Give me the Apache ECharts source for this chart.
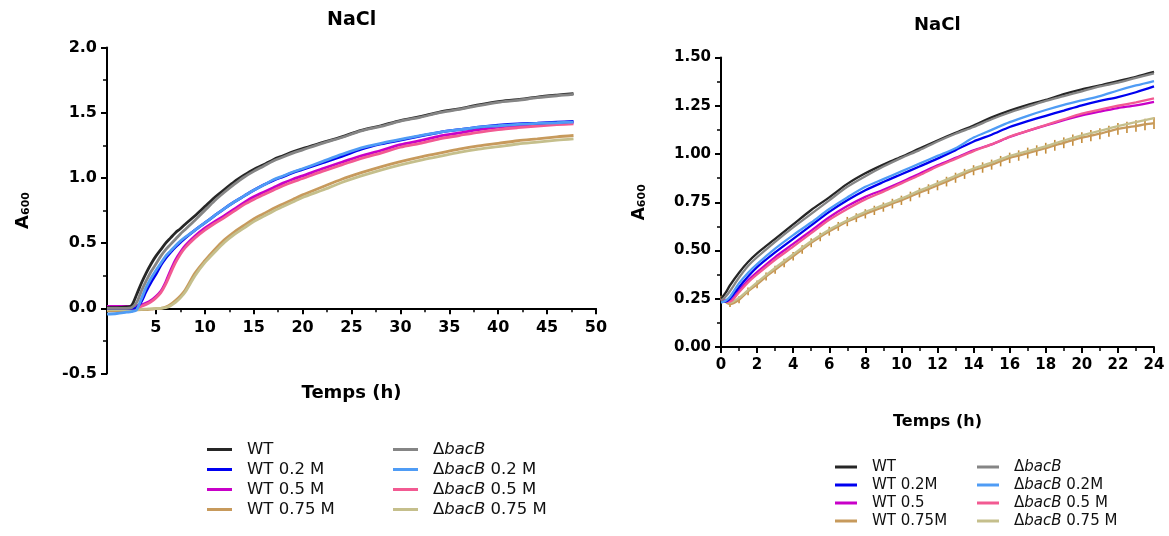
<!DOCTYPE html>
<html><head><meta charset="utf-8">
<script src="https://cdn.jsdelivr.net/npm/echarts@6/dist/echarts.min.js"></script>
<style>html,body{margin:0;padding:0;background:#fff}#c{width:1169px;height:536px}</style>
</head><body><div id="c"></div>
<script>
// ---------- LEFT PANEL (0-48 h) ----------
const tL = [0,1,2,2.5,3,3.5,4,4.5,5,5.5,6,6.5,7,7.5,8,9,10,11,12,13,14,15,16,17,18,19,20,22,24,26,28,30,32,34,36,38,40,42,44,46,47.7];
const wtL     = [0.005,0.005,0.01,0.02,0.10,0.19,0.27,0.34,0.40,0.45,0.50,0.54,0.58,0.61,0.645,0.71,0.78,0.85,0.91,0.97,1.02,1.065,1.10,1.14,1.17,1.20,1.225,1.27,1.315,1.365,1.40,1.44,1.47,1.505,1.53,1.56,1.585,1.60,1.62,1.635,1.646];
const wt02L   = [0.0,0.0,0.0,0.0,0.005,0.05,0.13,0.20,0.26,0.33,0.385,0.43,0.47,0.505,0.54,0.60,0.655,0.71,0.765,0.815,0.86,0.905,0.945,0.98,1.01,1.04,1.065,1.115,1.165,1.22,1.26,1.29,1.32,1.35,1.37,1.39,1.405,1.415,1.42,1.428,1.433];
const wt05L   = [0.015,0.015,0.015,0.015,0.02,0.025,0.04,0.06,0.09,0.13,0.20,0.29,0.37,0.43,0.48,0.555,0.615,0.665,0.71,0.76,0.81,0.855,0.89,0.925,0.96,0.99,1.015,1.07,1.12,1.17,1.21,1.255,1.285,1.32,1.345,1.37,1.39,1.40,1.412,1.42,1.426];
const wt075L  = [-0.02,-0.02,-0.015,-0.015,-0.012,-0.01,-0.01,-0.006,-0.003,0.0,0.01,0.03,0.06,0.095,0.14,0.27,0.365,0.45,0.525,0.585,0.635,0.685,0.725,0.765,0.80,0.835,0.87,0.93,0.99,1.04,1.085,1.125,1.16,1.19,1.22,1.245,1.265,1.285,1.30,1.315,1.325];
const bacL    = [0.0,0.0,0.0,0.005,0.04,0.13,0.21,0.28,0.34,0.40,0.45,0.49,0.53,0.57,0.605,0.675,0.75,0.825,0.89,0.95,1.005,1.05,1.09,1.13,1.16,1.19,1.215,1.265,1.31,1.36,1.395,1.435,1.465,1.50,1.525,1.555,1.58,1.595,1.615,1.63,1.64];
const bac02L  = [-0.045,-0.04,-0.03,-0.025,-0.015,0.07,0.16,0.23,0.29,0.345,0.40,0.44,0.48,0.515,0.545,0.60,0.655,0.71,0.765,0.815,0.86,0.905,0.945,0.985,1.015,1.045,1.07,1.125,1.18,1.23,1.265,1.295,1.325,1.35,1.37,1.39,1.40,1.41,1.418,1.423,1.428];
const bac05L  = [0.0,0.0,0.0,0.0,0.005,0.015,0.03,0.05,0.08,0.12,0.185,0.27,0.35,0.415,0.465,0.54,0.60,0.65,0.695,0.745,0.795,0.835,0.87,0.905,0.94,0.97,0.995,1.05,1.10,1.15,1.19,1.235,1.265,1.30,1.325,1.35,1.37,1.385,1.398,1.408,1.415];
const bac075L = [-0.01,-0.01,-0.01,-0.01,-0.01,-0.008,-0.006,-0.004,-0.002,0.0,0.005,0.02,0.045,0.08,0.125,0.25,0.35,0.43,0.505,0.565,0.615,0.665,0.705,0.745,0.78,0.815,0.85,0.905,0.965,1.015,1.06,1.10,1.135,1.165,1.195,1.22,1.24,1.26,1.275,1.29,1.30];
const namesL = ['WT','WT 0.2 M','WT 0.5 M','WT 0.75 M','ΔbacB','ΔbacB 0.2 M','ΔbacB 0.5 M','ΔbacB 0.75 M'];
const xTicksL = [0,5,10,15,20,25,30,35,40,45,50];
const yTicksL = [-0.5,0.0,0.5,1.0,1.5,2.0];

// ---------- RIGHT PANEL (0-24 h) ----------
const tR = [0,0.25,0.5,1,1.5,2,3,4,5,6,7,8,9,10,11,12,13,14,15,16,17,18,19,20,21,22,23,24];
const wtR     = [0.25,0.28,0.32,0.385,0.44,0.485,0.56,0.635,0.71,0.775,0.845,0.90,0.945,0.985,1.028,1.07,1.11,1.148,1.19,1.225,1.255,1.28,1.31,1.335,1.355,1.378,1.40,1.425];
const wt02R   = [0.235,0.235,0.25,0.31,0.365,0.414,0.49,0.56,0.63,0.70,0.76,0.812,0.855,0.895,0.935,0.976,1.02,1.065,1.10,1.14,1.17,1.198,1.225,1.252,1.275,1.295,1.32,1.35];
const wt05R   = [0.25,0.24,0.24,0.293,0.345,0.388,0.466,0.534,0.603,0.672,0.73,0.778,0.815,0.855,0.898,0.941,0.98,1.019,1.05,1.088,1.12,1.148,1.175,1.20,1.22,1.238,1.252,1.27];
const bacR    = [0.24,0.26,0.29,0.36,0.42,0.465,0.545,0.62,0.69,0.76,0.83,0.885,0.935,0.98,1.02,1.065,1.105,1.14,1.18,1.215,1.245,1.275,1.30,1.325,1.35,1.37,1.395,1.418];
const bac02R  = [0.23,0.24,0.26,0.33,0.385,0.43,0.51,0.58,0.645,0.715,0.775,0.83,0.87,0.91,0.95,0.99,1.03,1.085,1.125,1.165,1.198,1.228,1.255,1.278,1.30,1.329,1.355,1.378];
const bac05R  = [0.245,0.235,0.235,0.284,0.335,0.376,0.452,0.52,0.59,0.659,0.715,0.765,0.805,0.848,0.89,0.935,0.975,1.015,1.05,1.09,1.12,1.15,1.18,1.209,1.23,1.25,1.268,1.288];
const bac075R = [0.26,0.245,0.23,0.255,0.295,0.335,0.41,0.48,0.548,0.608,0.656,0.70,0.735,0.77,0.81,0.848,0.887,0.925,0.955,0.99,1.015,1.04,1.07,1.097,1.12,1.145,1.165,1.186];
// WT 0.75M (right) read at half-hour steps, with its error bars (SD)
const tRh      = [0,0.5,1,1.5,2,2.5,3,3.5,4,4.5,5,5.5,6,6.5,7,7.5,8,8.5,9,9.5,10,10.5,11,11.5,12,12.5,13,13.5,14,14.5,15,15.5,16,16.5,17,17.5,18,18.5,19,19.5,20,20.5,21,21.5,22,22.5,23,23.5,24];
const wt075R   = [0.255,0.222,0.245,0.288,0.325,0.365,0.40,0.435,0.47,0.505,0.54,0.57,0.60,0.625,0.65,0.67,0.69,0.708,0.725,0.743,0.76,0.78,0.80,0.818,0.838,0.857,0.877,0.897,0.916,0.93,0.945,0.963,0.98,0.992,1.005,1.018,1.03,1.045,1.058,1.072,1.085,1.095,1.105,1.118,1.13,1.138,1.145,1.153,1.16];
const sdWt075R = [0.010,0.015,0.018,0.020,0.020,0.021,0.021,0.022,0.022,0.022,0.023,0.022,0.023,0.023,0.024,0.023,0.024,0.024,0.024,0.025,0.024,0.025,0.025,0.025,0.026,0.025,0.026,0.026,0.026,0.027,0.026,0.027,0.027,0.027,0.028,0.027,0.028,0.028,0.028,0.029,0.028,0.029,0.029,0.029,0.030,0.029,0.030,0.030,0.030];
const namesR = ['WT','WT 0.2M','WT 0.5','WT 0.75M','ΔbacB','ΔbacB 0.2M','ΔbacB 0.5 M','ΔbacB 0.75 M'];
const xTicksR = [0,2,4,6,8,10,12,14,16,18,20,22,24];
const yTicksR = [0,0.25,0.5,0.75,1.0,1.25,1.5];

const colors = ['#262626','#0000f0','#c800c8','#c79a5c','#858585','#4f9cf5','#f25a92','#c5bf8c'];

const valsL = [wtL,wt02L,wt05L,wt075L,bacL,bac02L,bac05L,bac075L];
const valsR = [wtR,wt02R,wt05R,wt075R,bacR,bac02R,bac05R,bac075R];
const timesR = [tR,tR,tR,tRh,tR,tR,tR,tR];
const drawOrder = [3,7,2,6,1,5,0,4];

const FONT = 'DejaVu Sans';
const GRID_L = { left: 107, top: 47.5, width: 489, height: 326 };
// the left x axis crosses the y axis at 0: shift it up from the grid bottom by the distance from 0 to the y minimum
const yMinL = yTicksL[0], yMaxL = yTicksL[yTicksL.length-1];
const xOffsetL = -GRID_L.height * (0 - yMinL) / (yMaxL - yMinL);

const series = [];
drawOrder.forEach(i => {
  series.push({ name: 'L|' + namesL[i], type: 'line', xAxisIndex: 0, yAxisIndex: 0,
    data: tL.map((t, k) => [t, valsL[i][k]]), showSymbol: false, symbol: 'none', smooth: 0.3,
    color: colors[i], lineStyle: { width: 2.8, color: colors[i] }, z: 2 });
});
// error bars of WT 0.75M (right panel)
series.push({ name: 'R|WT 0.75M SD', type: 'custom', xAxisIndex: 1, yAxisIndex: 1, z: 1,
  data: tRh.map((t, k) => [t, wt075R[k] - sdWt075R[k], wt075R[k] + sdWt075R[k]]),
  encode: { x: 0, y: [1, 2] },
  renderItem: (params, api) => {
    const a = api.coord([api.value(0), api.value(1)]);
    const b = api.coord([api.value(0), api.value(2)]);
    return { type: 'line', shape: { x1: a[0], y1: a[1], x2: b[0], y2: b[1] },
             style: { stroke: '#c48c3a', lineWidth: 1.6 } };
  }
});
drawOrder.forEach(i => {
  series.push({ name: 'R|' + namesR[i], type: 'line', xAxisIndex: 1, yAxisIndex: 1,
    data: timesR[i].map((t, k) => [t, valsR[i][k]]), showSymbol: false, symbol: 'none', smooth: 0.3,
    color: colors[i], lineStyle: { width: 2.3, color: colors[i] }, z: 2 });
});

function fmtLegend(name) {
  const s = name.slice(2);
  if (s.charAt(0) === 'Δ') {
    const rest = s.slice(5);
    return '{n|Δ}{i|bacB}' + (rest ? '{n|' + rest + '}' : '');
  }
  return '{n|' + s + '}';
}
function legend(names, prefix, left, top, gap, w, fs, lh) {
  const rich = { n: { fontFamily: FONT, fontSize: fs, color: '#111' },
                 i: { fontFamily: FONT, fontSize: fs, fontStyle: 'italic', color: '#111' } };
  return { data: names.map(n => prefix + n), orient: 'vertical', left: left, top: top, itemGap: gap,
    itemWidth: w, itemHeight: 3, icon: 'rect', padding: 0, selectedMode: false,
    formatter: fmtLegend, textStyle: { fontFamily: FONT, fontSize: fs, lineHeight: lh, padding: [0,0,0,10], rich: rich } };
}

const axisCommon = {
  axisLine: { onZero: false, lineStyle: { color: '#000', width: 2 } },
  axisTick: { length: 6, lineStyle: { color: '#000', width: 2 } },
  minorTick: { show: true, splitNumber: 2, length: 4, lineStyle: { color: '#000', width: 1.5 } },
  splitLine: { show: false },
  axisLabel: { color: '#000', fontFamily: FONT, fontWeight: 'bold' }
};
const nameRich = (a, s) => ({ a: { fontFamily: FONT, fontWeight: 'bold', fontSize: a, color: '#000' },
                              s: { fontFamily: FONT, fontWeight: 'bold', fontSize: s, color: '#000', padding: [Math.round(a*0.35),0,0,0] } });

const option = {
  animation: false,
  backgroundColor: '#fff',
  title: [
    { text: 'NaCl', left: 327, top: 11, padding: 0, textStyle: { fontFamily: FONT, fontWeight: 'bold', fontSize: 19, color: '#000' } },
    { text: 'NaCl', left: 914, top: 16, padding: 0, textStyle: { fontFamily: FONT, fontWeight: 'bold', fontSize: 18, color: '#000' } }
  ],
  legend: [
    legend(namesL.slice(0,4), 'L|', 207, 441, 3, 25, 16.5, 17),
    legend(namesL.slice(4,8), 'L|', 393, 441, 3, 25, 16.5, 17),
    legend(namesR.slice(0,4), 'R|', 835, 459, 2, 22, 15, 16),
    legend(namesR.slice(4,8), 'R|', 977, 459, 2, 22, 15, 16)
  ],
  grid: [
    GRID_L,
    { left: 721, top: 57.5, width: 433, height: 289.5 }
  ],
  xAxis: [
    Object.assign({}, axisCommon, { type: 'value', gridIndex: 0, min: xTicksL[0], max: xTicksL[xTicksL.length-1], interval: 5,
      offset: xOffsetL,
      name: 'Temps (h)', nameLocation: 'middle', nameGap: 76,
      nameTextStyle: { fontFamily: FONT, fontWeight: 'bold', fontSize: 18, color: '#000' },
      axisLabel: Object.assign({}, axisCommon.axisLabel, { fontSize: 16, margin: 12, formatter: v => v === 0 ? '' : String(v) }) }),
    Object.assign({}, axisCommon, { type: 'value', gridIndex: 1, min: xTicksR[0], max: xTicksR[xTicksR.length-1], interval: 2,
      name: 'Temps (h)', nameLocation: 'middle', nameGap: 67,
      nameTextStyle: { fontFamily: FONT, fontWeight: 'bold', fontSize: 16, color: '#000' },
      axisLabel: Object.assign({}, axisCommon.axisLabel, { fontSize: 15, margin: 11, formatter: v => String(v) }) })
  ],
  yAxis: [
    Object.assign({}, axisCommon, { type: 'value', gridIndex: 0, min: yMinL, max: yMaxL, interval: 0.5,
      name: '{a|A}{s|600}', nameLocation: 'middle', nameGap: 75,
      nameTextStyle: { rich: nameRich(18, 11) },
      axisLabel: Object.assign({}, axisCommon.axisLabel, { fontSize: 16, margin: 10, formatter: v => v.toFixed(1) }) }),
    Object.assign({}, axisCommon, { type: 'value', gridIndex: 1, min: yTicksR[0], max: yTicksR[yTicksR.length-1], interval: 0.25,
      name: '{a|A}{s|600}', nameLocation: 'middle', nameGap: 73,
      nameTextStyle: { rich: nameRich(17, 11) },
      axisLabel: Object.assign({}, axisCommon.axisLabel, { fontSize: 15, margin: 10, formatter: v => v.toFixed(2) }) })
  ],
  series: series
};
const chart = echarts.init(document.getElementById('c'), null, { renderer: 'canvas' });
chart.setOption(option);
</script>
</body></html>
